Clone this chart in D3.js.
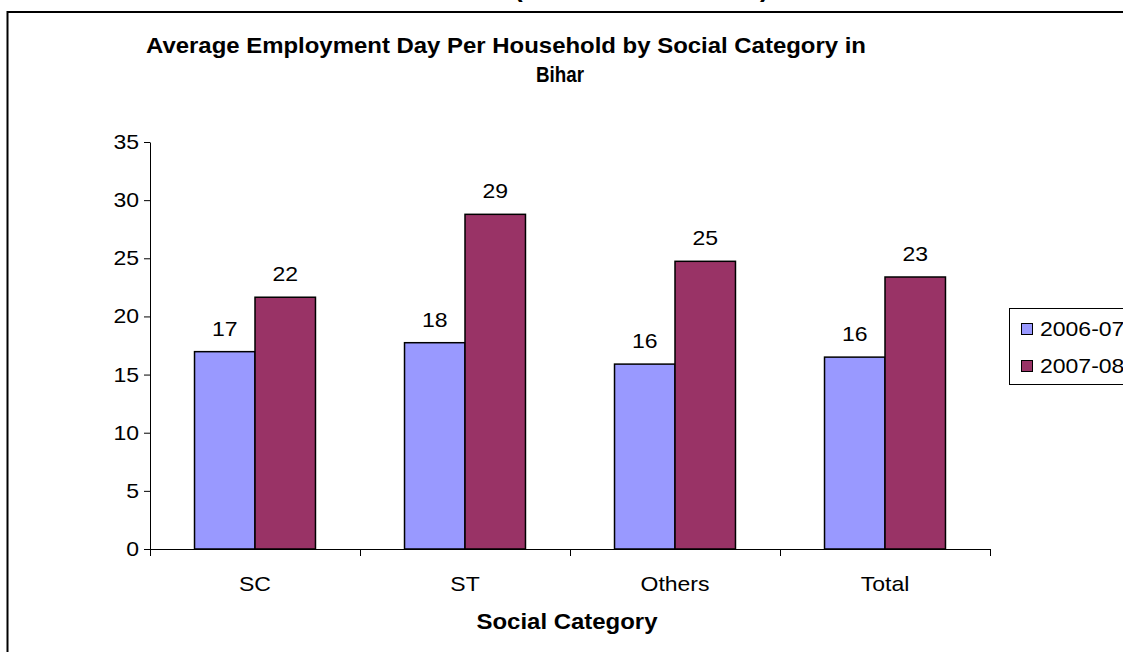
<!DOCTYPE html>
<html>
<head>
<meta charset="utf-8">
<script src="https://cdn.jsdelivr.net/npm/d3@7"></script>
<style>
  html, body { margin: 0; padding: 0; background: #fff; }
  svg { display: block; font-family: "Liberation Sans", Arial, sans-serif; }
</style>
</head>
<body>
<svg id="chart" width="1123" height="652"></svg>
<script>
const categories = ["SC", "ST", "Others", "Total"];
const seriesNames = ["2006-07", "2007-08"];
const values2006 = [16.97, 17.74, 15.9, 16.5];
const values2007 = [21.65, 28.78, 24.74, 23.39];
const valueLabels2006 = ["17", "18", "16", "16"];
const valueLabels2007 = ["22", "29", "25", "23"];
const yTicks = [0, 5, 10, 15, 20, 25, 30, 35];
const colors = ["#9999FF", "#993366"];

const svg = d3.select("#chart");
const FS = 20, SX = 1.15;

function label(parent, x, y, txt, anchor) {
  return parent.append("text")
    .attr("transform", `translate(${x},${y}) scale(${SX},1)`)
    .attr("text-anchor", anchor || "middle")
    .attr("font-size", FS).attr("fill", "#000").text(txt);
}

// cut-off heading above the frame
svg.append("text").attr("x", 514).attr("y", -3).attr("font-size", 26).attr("font-weight", "bold").text("(");
svg.append("text").attr("x", 760).attr("y", -3).attr("font-size", 26).attr("font-weight", "bold").text(")");

// chart frame
svg.append("rect").attr("x", 7.5).attr("y", 12).attr("width", 1130).attr("height", 660)
  .attr("fill", "#fff").attr("stroke", "#000").attr("stroke-width", 2);

// title
svg.append("text").attr("x", 146).attr("y", 53).attr("font-size", 22).attr("font-weight", "bold")
  .attr("textLength", 720).attr("lengthAdjust", "spacingAndGlyphs")
  .text("Average Employment Day Per Household by Social Category in");
svg.append("text").attr("x", 560).attr("y", 82).attr("font-size", 22).attr("font-weight", "bold")
  .attr("text-anchor", "middle").attr("textLength", 48).attr("lengthAdjust", "spacingAndGlyphs").text("Bihar");

const x0 = d3.scaleBand().domain(categories).range([150, 990]).paddingInner(0.424).paddingOuter(0.212);
const x1 = d3.scaleBand().domain(seriesNames).range([0, x0.bandwidth()]);
const y = d3.scaleLinear().domain([0, 35]).range([549, 142]);

// y axis (line + ticks via d3 axis, labels drawn with the same scale)
const yAxis = svg.append("g").attr("transform", "translate(150,0)")
  .call(d3.axisLeft(y).tickValues(yTicks).tickSize(6).tickFormat("").tickSizeOuter(0));
yAxis.selectAll("line,path").attr("stroke", "#000").attr("stroke-width", 1);
yTicks.forEach(t => label(svg, 139, y(t) + 7, String(t), "end"));

// x axis
const xAxis = svg.append("g").attr("transform", "translate(0,549)")
  .call(d3.axisBottom(d3.scaleLinear().domain([0, 4]).range([150, 990])).tickValues([0,1,2,3,4]).tickSize(7).tickFormat("").tickSizeOuter(0));
xAxis.selectAll("line,path").attr("stroke", "#000").attr("stroke-width", 1);

categories.forEach(c => label(svg, x0(c) + x0.bandwidth() / 2, 591, c));

svg.append("text").attr("x", 567).attr("y", 629).attr("text-anchor", "middle")
  .attr("font-size", 22).attr("font-weight", "bold")
  .attr("textLength", 181).attr("lengthAdjust", "spacingAndGlyphs").text("Social Category");

// bars
const series = [values2006, values2007];
const labels = [valueLabels2006, valueLabels2007];
series.forEach((vals, si) => {
  const g = svg.append("g");
  g.selectAll("rect").data(categories).join("rect")
    .attr("x", c => x0(c) + x1(seriesNames[si]))
    .attr("y", (c, i) => y(vals[i]))
    .attr("width", x1.bandwidth())
    .attr("height", (c, i) => y(0) - y(vals[i]))
    .attr("fill", colors[si]).attr("stroke", "#000").attr("stroke-width", 1.5);
  categories.forEach((c, i) => {
    label(g, x0(c) + x1(seriesNames[si]) + x1.bandwidth() / 2, y(vals[i]) - 16, labels[si][i]);
  });
});

// legend
svg.append("rect").attr("x", 1009.5).attr("y", 308.5).attr("width", 200).attr("height", 76)
  .attr("fill", "#fff").attr("stroke", "#000").attr("stroke-width", 1);
seriesNames.forEach((s, i) => {
  svg.append("rect").attr("x", 1021.5).attr("y", 323.5 + i * 37).attr("width", 11).attr("height", 11)
    .attr("fill", colors[i]).attr("stroke", "#000").attr("stroke-width", 1);
  label(svg, 1040, 336 + i * 37, s, "start");
});
</script>
</body>
</html>
